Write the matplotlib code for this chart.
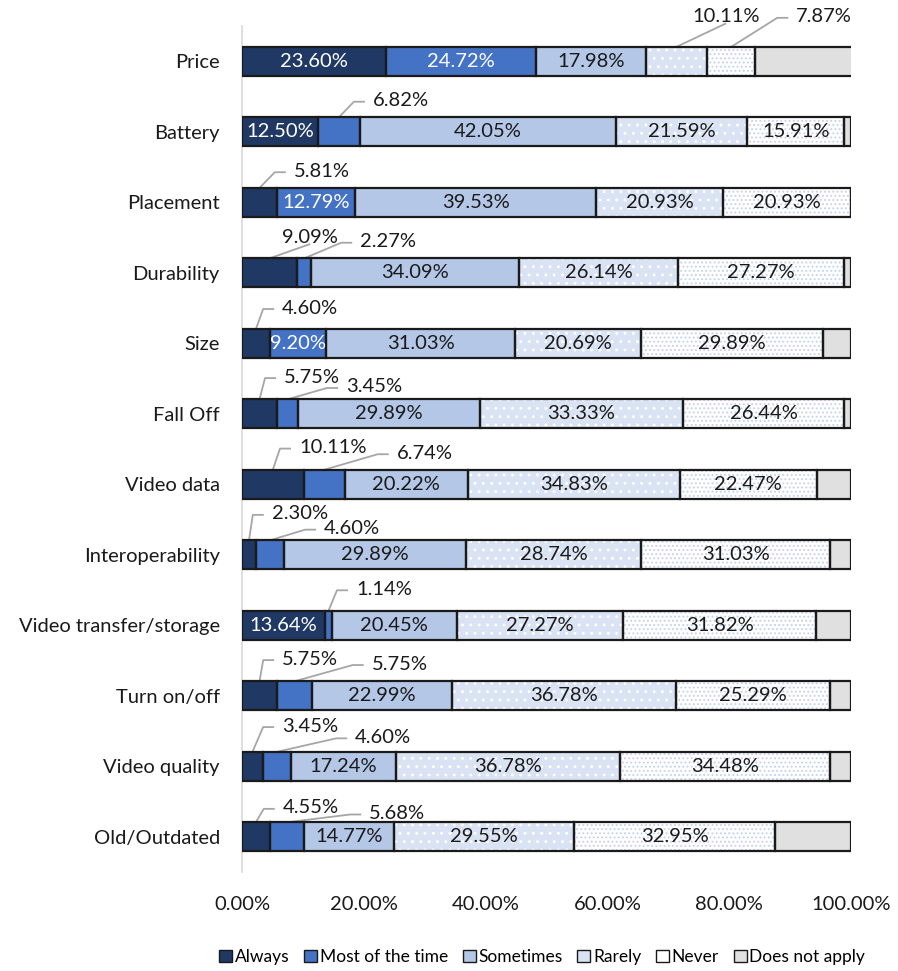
import matplotlib
matplotlib.use("Agg")
import matplotlib.pyplot as plt
from matplotlib.patches import Patch
import numpy as np

plt.rcParams['font.family'] = ['Lato', 'DejaVu Sans']
plt.rcParams['hatch.linewidth'] = 0.9

categories = ["Price", "Battery", "Placement", "Durability", "Size", "Fall Off",
              "Video data", "Interoperability", "Video transfer/storage",
              "Turn on/off", "Video quality", "Old/Outdated"]
series_names = ["Always", "Most of the time", "Sometimes", "Rarely", "Never", "Does not apply"]

always    = [23.60, 12.50, 5.81, 9.09, 4.60, 5.75, 10.11, 2.30, 13.64, 5.75, 3.45, 4.55]
most      = [24.72, 6.82, 12.79, 2.27, 9.20, 3.45, 6.74, 4.60, 1.14, 5.75, 4.60, 5.68]
sometimes = [17.98, 42.05, 39.53, 34.09, 31.03, 29.89, 20.22, 29.89, 20.45, 22.99, 17.24, 14.77]
rarely    = [10.11, 21.59, 20.93, 26.14, 20.69, 33.33, 34.83, 28.74, 27.27, 36.78, 36.78, 29.55]
never     = [7.87, 15.91, 20.93, 27.27, 29.89, 26.44, 22.47, 31.03, 31.82, 25.29, 34.48, 32.95]
not_apply = [16.72, 1.13, 0.01, 1.14, 4.59, 1.14, 5.63, 3.44, 5.68, 3.44, 3.45, 12.50]

x_ticks = [0, 20, 40, 60, 80, 100]
x_tick_labels = ["0.00%", "20.00%", "40.00%", "60.00%", "80.00%", "100.00%"]

# callouts: (category index, series index, text x (%), text y offset (rows), leader style)
callouts = [
    (0, 3, 79.5, -0.63, 'bottom'), (0, 4, 95.6, -0.63, 'elbow'),
    (1, 1, 26.1, -0.44, 'elbow'),
    (2, 0, 13.1, -0.44, 'elbow'),
    (3, 0, 11.2, -0.50, 'bottom'), (3, 1, 24.0, -0.44, 'elbow'),
    (4, 0, 11.2, -0.50, 'elbow'),
    (5, 0, 11.5, -0.52, 'elbow'), (5, 1, 21.7, -0.38, 'elbow'),
    (6, 0, 14.9, -0.52, 'elbow'), (6, 1, 30.0, -0.44, 'elbow'),
    (7, 0, 9.5, -0.58, 'elbow'), (7, 1, 18.1, -0.37, 'elbow'),
    (8, 1, 23.3, -0.51, 'elbow'),
    (9, 0, 11.2, -0.52, 'elbow'), (9, 1, 25.9, -0.45, 'elbow'),
    (10, 0, 11.2, -0.57, 'elbow'), (10, 1, 23.2, -0.41, 'elbow'),
    (11, 0, 11.3, -0.41, 'elbow'), (11, 1, 25.5, -0.33, 'elbow'),
]

data = [always, most, sometimes, rarely, never, not_apply]
face = ['#203864', '#4472C4', '#B4C7E7', '#DAE3F3', '#FFFFFF', '#E0E0E0']
hatches = [None, None, None, '..', '....', None]
hatch_cols = [None, None, None, '#FFFFFF', '#C5D3EC', None]
text_cols = ['white', 'white', '#1a1a1a', '#1a1a1a', '#1a1a1a', None]

W, H, DPI = 898, 971, 100
fig = plt.figure(figsize=(W / DPI, H / DPI), dpi=DPI)
ax = fig.add_axes([242 / W, 1 - 872 / H, (851 - 242) / W, (872 - 26) / H])

y = np.arange(len(categories))
bar_h = 0.41
FS = 14.5
left = np.zeros(len(categories))
lefts = []
for i, vals in enumerate(data):
    vals = np.array(vals)
    lefts.append(left.copy())
    ax.barh(y, vals, left=left, height=bar_h, color=face[i], edgecolor='none', linewidth=0, zorder=2)
    if hatches[i]:
        ax.barh(y, vals, left=left, height=bar_h, color='none', edgecolor=hatch_cols[i],
                hatch=hatches[i], linewidth=0, zorder=3)
    ax.barh(y, vals, left=left, height=bar_h, color='none', edgecolor='#1a1a1a',
            linewidth=1.6, zorder=4)
    left = left + vals

callout_set = {(c, s) for c, s, *_ in callouts}
for s in range(5):
    for c in range(len(categories)):
        if (c, s) in callout_set:
            continue
        v = data[s][c]
        ax.text(lefts[s][c] + v / 2, y[c], f"{v:.2f}%", ha='center', va='center',
                color=text_cols[s], fontsize=FS, zorder=5)

ax.set_xlim(0, 100)
ax.set_ylim(len(categories) - 0.5, -0.5)
ax.set_yticks(y)
ax.set_yticklabels(categories, fontsize=FS, color='#1a1a1a')
ax.set_xticks(x_ticks)
ax.set_xticklabels(x_tick_labels, fontsize=FS, color='#1a1a1a')
ax.tick_params(axis='both', length=0)
ax.tick_params(axis='y', pad=16)
ax.tick_params(axis='x', pad=17)
for sp in ['top', 'right', 'bottom']:
    ax.spines[sp].set_visible(False)
ax.spines['left'].set_color('#D9D9D9')
ax.spines['left'].set_linewidth(1.2)

texts = []
for c, s, tx, dy, style in callouts:
    v = data[s][c]
    t = ax.text(tx, y[c] + dy, f"{v:.2f}%", ha='center', va='center',
                color='#1a1a1a', fontsize=FS, zorder=6)
    texts.append(t)

fig.canvas.draw()
renderer = fig.canvas.get_renderer()
inv = ax.transData.inverted()
for (c, s, tx, dy, style), t in zip(callouts, texts):
    bb = t.get_window_extent(renderer)
    v = data[s][c]
    seg_x = lefts[s][c] + v / 2
    p0 = ax.transData.transform((seg_x, y[c] - bar_h / 2))
    if style == 'bottom':
        pts = [p0, ((bb.x0 + bb.x1) / 2, bb.y0 + 2)]
    else:
        ym = (bb.y0 + bb.y1) / 2 - 1
        x_end = bb.x0 - 8
        x_start = max(x_end - 11, p0[0] + 3)
        pts = [p0, (x_start, ym), (x_end, ym)]
    pts = inv.transform(np.array(pts))
    ax.plot(pts[:, 0], pts[:, 1], color='#A6A6A6', lw=1.3, zorder=1, clip_on=False,
            solid_capstyle='butt')

handles = []
for i in range(6):
    handles.append(Patch(facecolor=face[i], edgecolor='#1a1a1a', linewidth=1.0))
leg = fig.legend(handles, series_names, loc='center', bbox_to_anchor=(542 / W, 1 - 957 / H),
                 ncol=6, frameon=False, fontsize=12.5, handlelength=0.75, handleheight=0.75,
                 handletextpad=0.15, columnspacing=0.85, borderaxespad=0)

fig.savefig("out.png", dpi=DPI)
